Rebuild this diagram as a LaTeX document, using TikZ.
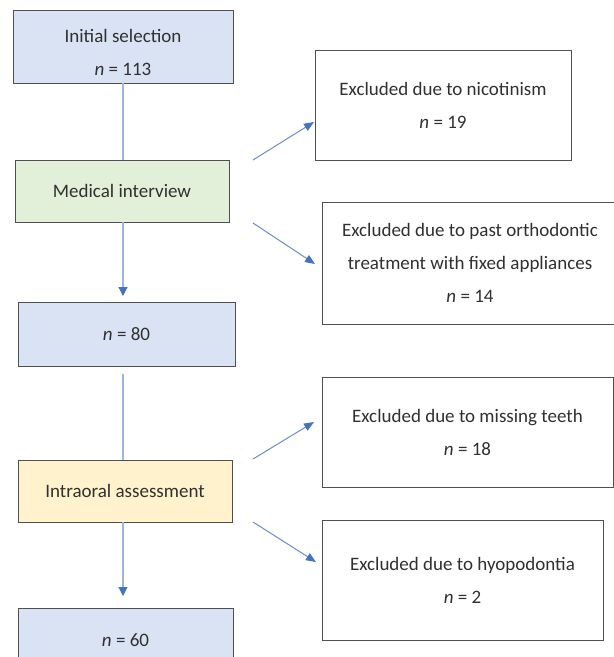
\documentclass[tikz,border=0pt]{standalone}
\usepackage{fontspec}
\setmainfont{Carlito}
\usetikzlibrary{arrows.meta}
\definecolor{bluefill}{HTML}{DAE3F3}
\definecolor{greenfill}{HTML}{E2F0D9}
\definecolor{yellowfill}{HTML}{FFF2CC}
\definecolor{boxline}{HTML}{505050}
\definecolor{vline}{HTML}{9DB5E0}
\definecolor{arrowblue}{HTML}{4472C4}
\definecolor{txt}{HTML}{303030}
\begin{document}
\begin{tikzpicture}[x=1pt,y=-1pt,
  box/.style={draw=boxline, line width=0.9pt, align=center, inner sep=0pt,
    text=txt, font=\fontsize{19}{33}\selectfont},
  boxtext/.style={align=center, inner sep=0pt, text=txt, font=\fontsize{19}{33}\selectfont},
  vconn/.style={draw=vline, line width=1.1pt},
  varrow/.style={draw=vline, line width=1.1pt, -{Triangle[length=9pt,width=9pt,color=arrowblue]}},
  sarrow/.style={draw=arrowblue!80, line width=1pt, -{Triangle[length=10pt,width=8pt,color=arrowblue]}}]
\useasboundingbox (0,0) rectangle (614,657);
\clip (0,0) rectangle (614,657);
\fill[white] (0,0) rectangle (614,657);

% left column
\node[box, fill=bluefill, minimum width=220pt, minimum height=73pt] (init) at (123,46.5) {};
\node[boxtext] (inittext) at (123,52) {Initial selection\\\textit{n} = 113};
\node[box, fill=greenfill, minimum width=214pt, minimum height=62pt] (med) at (122,191)
  {Medical interview};
\node[box, fill=bluefill, minimum width=217pt, minimum height=64pt] (n80) at (126.5,334)
  {\textit{n} = 80};
\node[box, fill=yellowfill, minimum width=214pt, minimum height=62pt] (intra) at (125,491)
  {Intraoral assessment};
\node[box, fill=bluefill, minimum width=215pt, minimum height=64pt] (n60) at (125.5,640)
  {\textit{n} = 60};

% right column
\node[box, minimum width=256pt, minimum height=110pt] (nic) at (443,105)
  {Excluded due to nicotinism\\\textit{n} = 19};
\node[box, minimum width=296pt, minimum height=122pt] (orth) at (470,263)
  {Excluded due to past orthodontic\\treatment with fixed appliances\\\textit{n} = 14};
\node[box, minimum width=291pt, minimum height=110pt] (miss) at (467.5,432)
  {Excluded due to missing teeth\\\textit{n} = 18};
\node[box, minimum width=281pt, minimum height=120pt] (hypo) at (462.5,580)
  {Excluded due to hyopodontia\\\textit{n} = 2};

% vertical connectors
\coordinate (a1) at (123,296);
\coordinate (b1) at (123,374);
\coordinate (a2) at (123,596);
\draw[vconn] (init.south -| 123,0) -- (med.north -| 123,0);
\draw[varrow] (med.south -| 123,0) -- (a1);
\draw[vconn] (b1) -- (intra.north -| 123,0);
\draw[varrow] (intra.south -| 123,0) -- (a2);

% side arrows
\coordinate (s1) at (253,160);
\coordinate (t1) at (314,122);
\coordinate (s2) at (253,223);
\coordinate (t2) at (315,264);
\coordinate (s3) at (253,459);
\coordinate (t3) at (314,422);
\coordinate (s4) at (253,522);
\coordinate (t4) at (316,562);
\draw[sarrow] (s1) -- (t1);
\draw[sarrow] (s2) -- (t2);
\draw[sarrow] (s3) -- (t3);
\draw[sarrow] (s4) -- (t4);
\end{tikzpicture}
\end{document}
